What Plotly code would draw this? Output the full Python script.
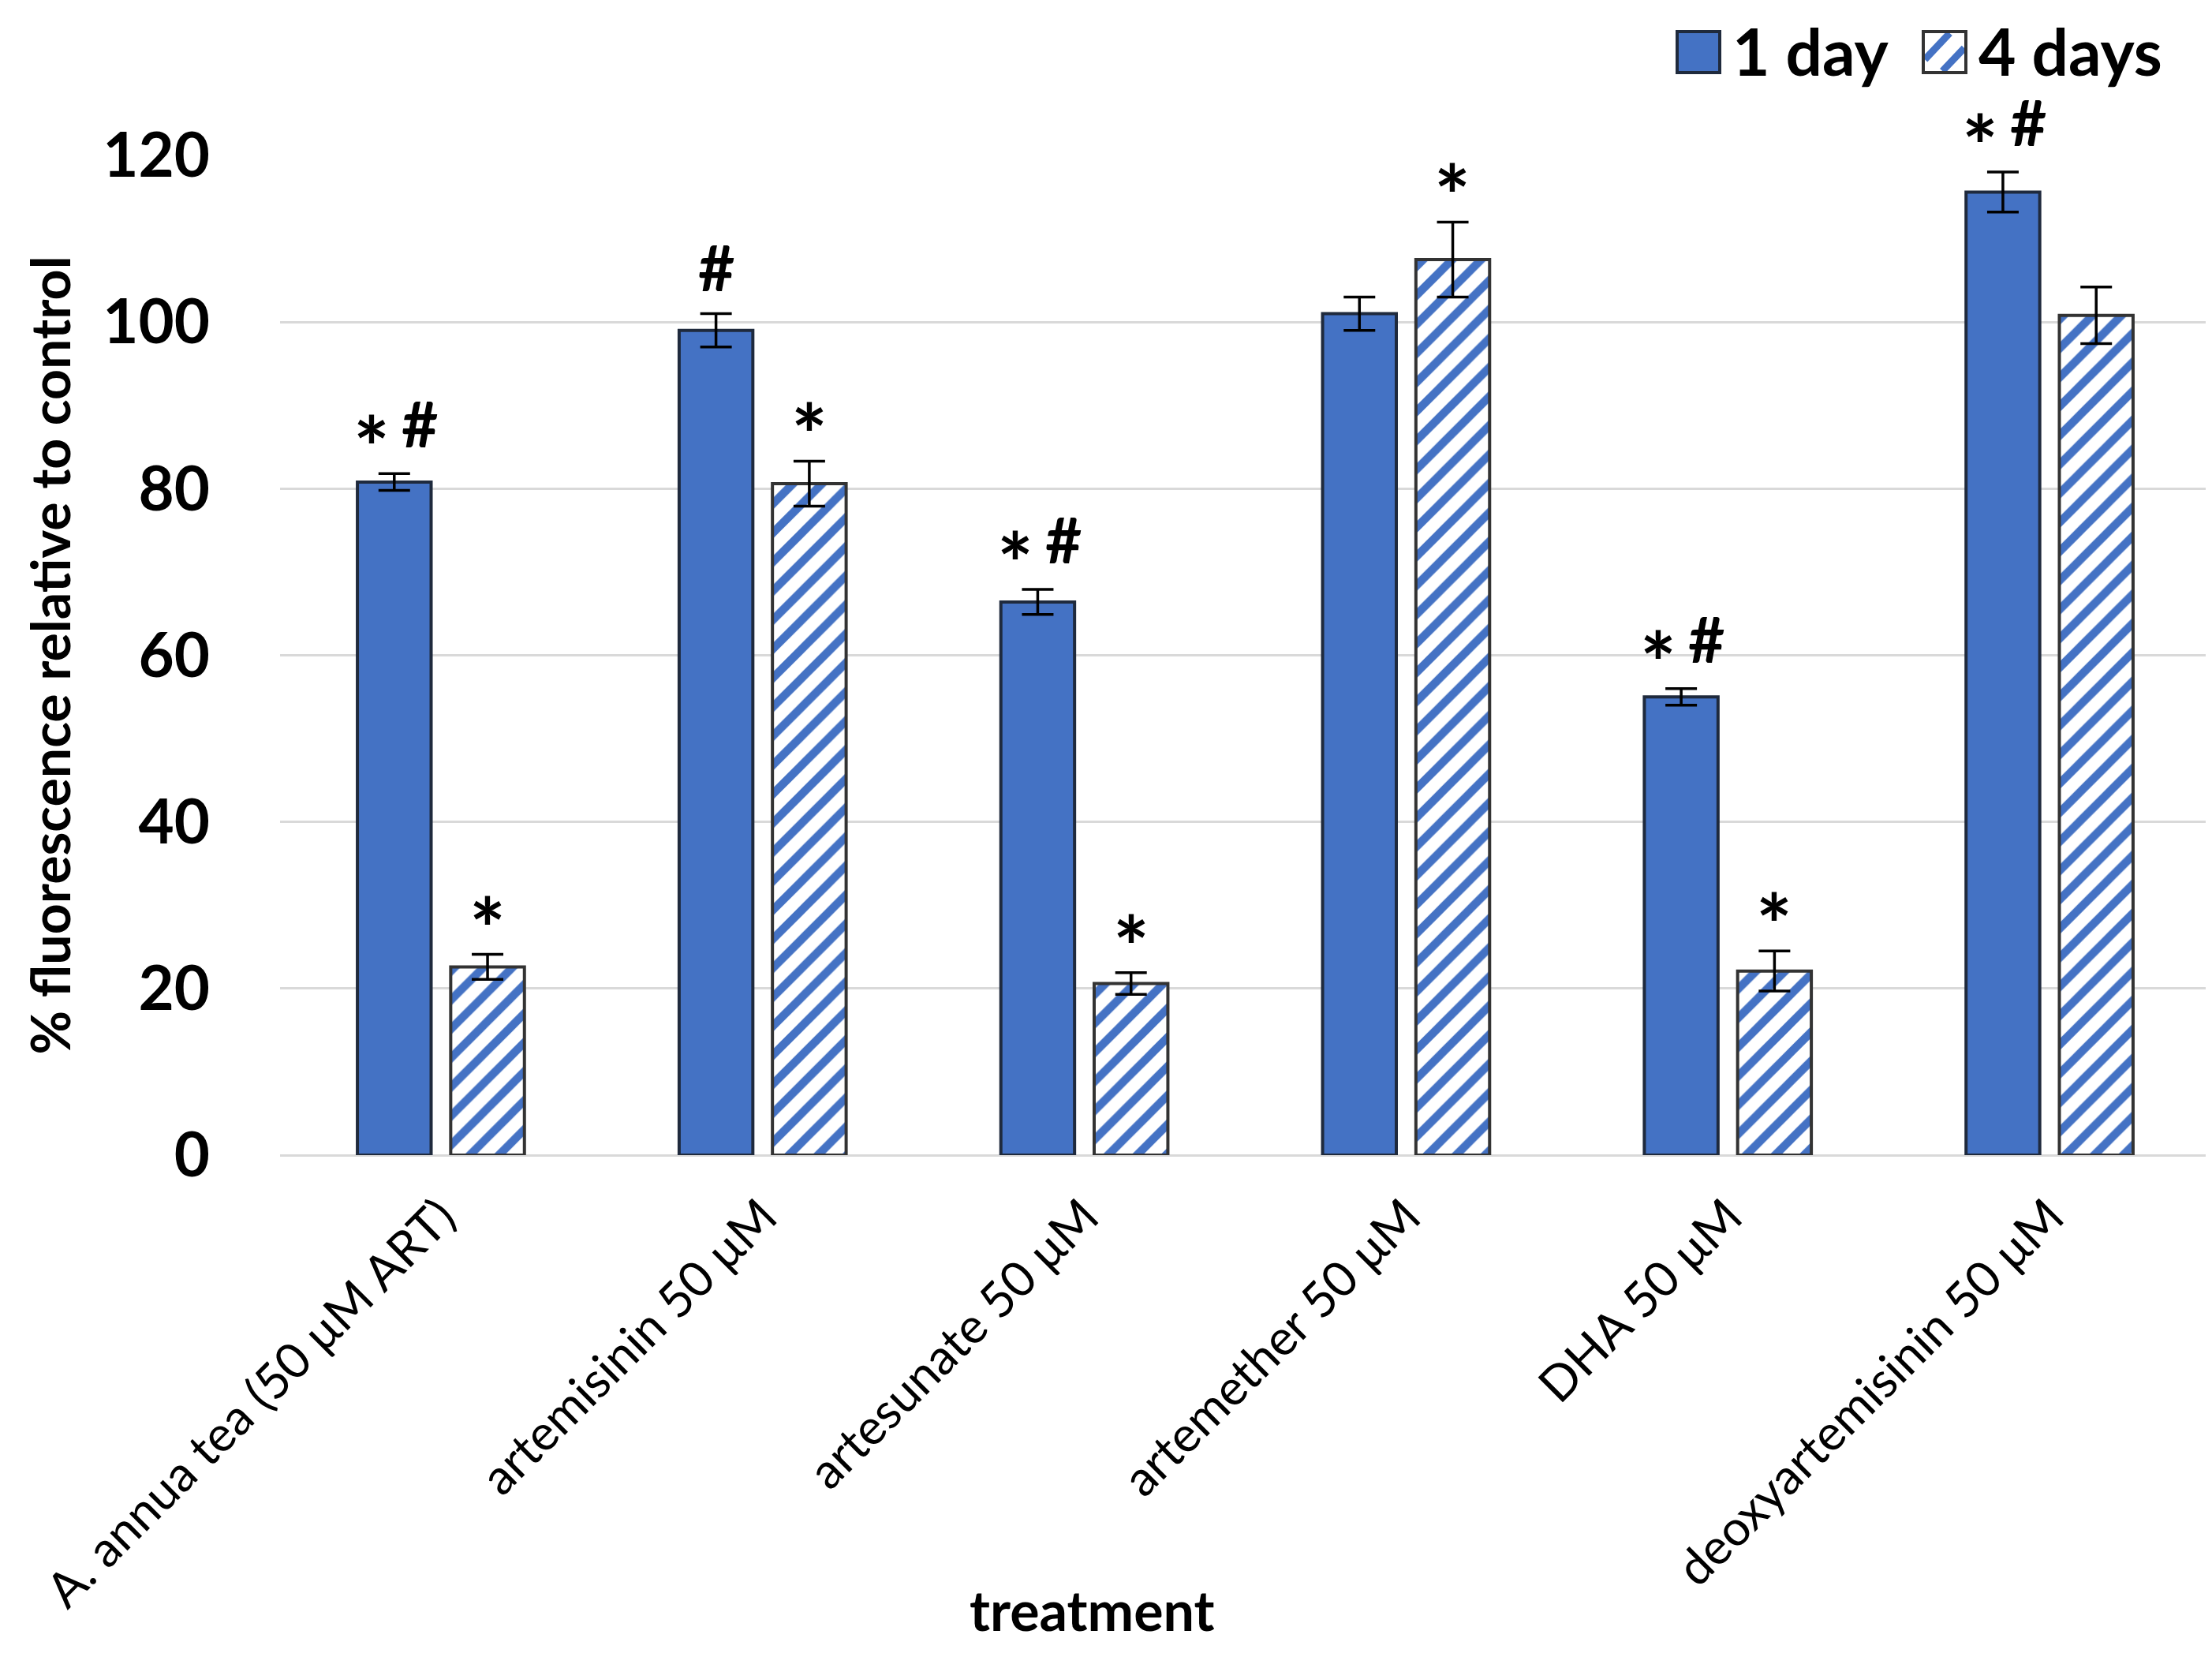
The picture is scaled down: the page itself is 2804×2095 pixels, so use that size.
import plotly.graph_objects as go

categories = ["A. annua tea (50 μM ART)", "artemisinin 50 μM", "artesunate 50 μM",
              "artemether 50 μM", "DHA 50 μM", "deoxyartemisinin 50 μM"]
day1 = [80.8, 99.0, 66.4, 101.0, 55.0, 115.6]
day1_err = [1.0, 2.0, 1.5, 2.0, 1.0, 2.4]
day4 = [22.6, 80.6, 20.6, 107.5, 22.1, 100.8]
day4_err = [1.5, 2.7, 1.3, 4.5, 2.4, 3.4]
sig1 = ["*#", "#", "*#", "", "*#", "*#"]
sig4 = ["*", "*", "*", "*", "*", ""]
yticks = [0, 20, 40, 60, 80, 100, 120]

BLUE = "#4472C4"
FONT = "Lato"
W, H = 2804, 2095
ML, MR, MT, MB = 347, 10, 189, 639
PW = W - ML - MR
PH = H - MT - MB

fig = go.Figure()
fig.add_trace(go.Bar(
    name="1 day", x=categories, y=day1,
    marker=dict(color=BLUE, line=dict(color="#1f2a3d", width=4)),
    error_y=dict(type="data", array=day1_err, color="black", thickness=3.5, width=20),
    showlegend=False,
))
fig.add_trace(go.Bar(
    name="4 days", x=categories, y=day4,
    marker=dict(color="white", line=dict(color="#333333", width=4),
                pattern=dict(shape="/", fgcolor=BLUE, bgcolor="white", fgopacity=1,
                             size=26, solidity=0.4)),
    error_y=dict(type="data", array=day4_err, color="black", thickness=3.5, width=20),
    showlegend=False,
))

annotations = []
half_slot = 59
STAR = dict(family=FONT, size=108, color="black")
HASH = dict(family=FONT, size=80, color="black")


def add_marks(cat, ytop, base_shift, marks):
    both = len(marks) == 2
    for m in marks:
        if m == "*":
            dx = -29 if both else 0
            annotations.append(dict(x=cat, xref="x", y=ytop, yref="y", xshift=base_shift + dx,
                                    yshift=-32, yanchor="bottom", showarrow=False,
                                    text="<b>*</b>", font=STAR))
        else:
            dx = 32 if both else 0
            annotations.append(dict(x=cat, xref="x", y=ytop, yref="y", xshift=base_shift + dx,
                                    yshift=14 if both else 10, yanchor="bottom", showarrow=False,
                                    text="<b>#</b>", font=HASH))


for i, c in enumerate(categories):
    add_marks(c, day1[i] + day1_err[i], -half_slot, sig1[i])
    add_marks(c, day4[i] + day4_err[i], half_slot, sig4[i])

# x-axis title
annotations.append(dict(x=(1376 - ML) / PW, xref="paper", y=(H - MB - 2032) / PH, yref="paper",
                        yanchor="middle", xanchor="center", showarrow=False,
                        text="<b>treatment</b>", font=dict(family=FONT, size=70, color="black")))


def px(xpix):
    return (xpix - ML) / PW


def py(ypix):
    return (H - MB - ypix) / PH


shapes = []
# legend: 1 day
shapes.append(dict(type="rect", xref="paper", yref="paper", x0=px(2118), x1=px(2172),
                   y0=py(84), y1=py(32), fillcolor=BLUE, line=dict(color="#1f2a3d", width=4)))
annotations.append(dict(x=px(2186), xref="paper", y=py(56), yref="paper", xanchor="left",
                        yanchor="middle", showarrow=False, text="<b>1 day</b>",
                        font=dict(family=FONT, size=82, color="black")))
# legend: 4 days
x0, x1, y0, y1 = 2430, 2484, 84, 32
w, h = x1 - x0, y0 - y1
shapes.append(dict(type="rect", xref="paper", yref="paper", x0=px(x0), x1=px(x1),
                   y0=py(y0), y1=py(y1), fillcolor="white", line=dict(width=0)))
shapes.append(dict(type="line", xref="paper", yref="paper", x0=px(x0 + 2), y0=py(y0 - 0.32 * h),
                   x1=px(x0 + 0.62 * w), y1=py(y1 + 2), line=dict(color=BLUE, width=9)))
shapes.append(dict(type="line", xref="paper", yref="paper", x0=px(x0 + 0.45 * w), y0=py(y0 - 2),
                   x1=px(x1 - 2), y1=py(y0 - 0.6 * h), line=dict(color=BLUE, width=9)))
shapes.append(dict(type="rect", xref="paper", yref="paper", x0=px(x0), x1=px(x1),
                   y0=py(y0), y1=py(y1), fillcolor="rgba(0,0,0,0)", line=dict(color="#333333", width=4)))
annotations.append(dict(x=px(2498), xref="paper", y=py(56), yref="paper", xanchor="left",
                        yanchor="middle", showarrow=False, text="<b>4 days</b>",
                        font=dict(family=FONT, size=82, color="black")))

fig.update_layout(
    width=W, height=H,
    margin=dict(l=ML, r=MR, t=MT, b=MB),
    paper_bgcolor="white", plot_bgcolor="white",
    barmode="group", bargap=0.42, bargroupgap=0.21,
    font=dict(family=FONT, color="black"),
    annotations=annotations, shapes=shapes,
    showlegend=False,
)
fig.update_xaxes(
    tickangle=-45, tickfont=dict(family=FONT, size=62, color="black"),
    showline=False, showgrid=False, ticks="", ticklabelstandoff=28,
)
fig.update_yaxes(
    range=[0, 120], tickvals=yticks, ticktext=[str(v) for v in yticks],
    tickfont=dict(family=FONT, size=78, color="black", weight="bold"),
    showgrid=True, gridcolor="#D9D9D9", gridwidth=3,
    zeroline=True, zerolinecolor="#D9D9D9", zerolinewidth=3,
    showline=False, ticks="", ticklabelstandoff=88,
    title=dict(text="<b>% fluorescence relative to control</b>", standoff=18,
               font=dict(family=FONT, size=68, color="black")),
)

fig.write_html("out.html")
